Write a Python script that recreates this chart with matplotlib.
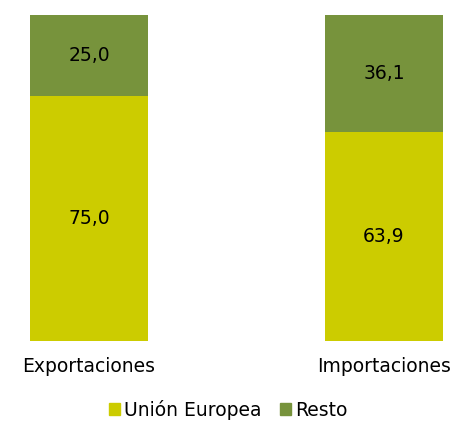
import matplotlib.pyplot as plt
from matplotlib.patches import Patch

categories = ['Exportaciones', 'Importaciones']
ue = [75.0, 63.9]
resto = [25.0, 36.1]
series_names = ['Unión Europea', 'Resto']

col_ue = '#CCCC00'
col_resto = '#77933C'
fs = 13.5

fig = plt.figure(figsize=(4.52, 4.25), dpi=100)
ax = fig.add_axes([30/452, (425-340.5)/425, 413/452, 326/425])

x = range(len(categories))
ax.bar(x, ue, width=0.4, color=col_ue)
ax.bar(x, resto, width=0.4, bottom=ue, color=col_resto)

for i in x:
    ax.text(i, ue[i]/2, f'{ue[i]:.1f}'.replace('.', ','), ha='center', va='center', fontsize=fs)
    ax.text(i, ue[i] + resto[i]/2, f'{resto[i]:.1f}'.replace('.', ','), ha='center', va='center', fontsize=fs)

ax.set_xlim(-0.2, 1.2)
ax.set_ylim(0, 100)
ax.set_xticks(list(x))
ax.set_xticklabels(categories, fontsize=fs)
ax.tick_params(axis='x', length=0, pad=12)
ax.set_yticks([])
for s in ax.spines.values():
    s.set_visible(False)

handles = [Patch(color=col_ue), Patch(color=col_resto)]
fig.legend(handles, series_names, loc='center', bbox_to_anchor=(228/452, 1-410/425),
           ncol=2, frameon=False, fontsize=fs, handlelength=0.6, handleheight=0.6,
           handletextpad=0.2, columnspacing=1.0, borderpad=0)

fig.savefig('out.png', dpi=100)
